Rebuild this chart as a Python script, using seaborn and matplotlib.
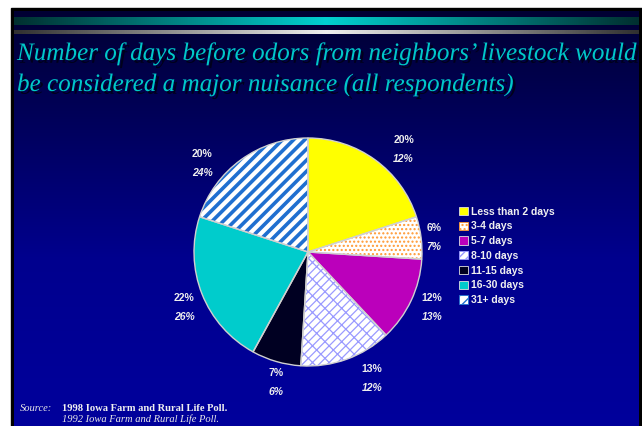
import numpy as np
import matplotlib
matplotlib.use('Agg')
import matplotlib.pyplot as plt
import matplotlib.patheffects as pe
import seaborn as sns
from matplotlib.patches import Patch, Rectangle

# data
categories = ['Less than 2 days', '3-4 days', '5-7 days', '8-10 days',
              '11-15 days', '16-30 days', '31+ days']
pct_1998 = [20, 6, 12, 13, 7, 22, 20]
pct_1992 = [12, 7, 13, 12, 6, 26, 24]

title_lines = ['Number of days before odors from neighbors\u2019 livestock would',
               'be considered a major nuisance (all respondents)']

# slice styling
slice_colors = sns.color_palette(['#ffff00', '#ffffff', '#bb00bb', '#ffffff',
                                  '#000022', '#00cccc', '#ffffff'])
hatches = [None, '....', None, '////\\\\', None, None, '///']
hatch_colors = [None, '#ff9933', None, '#9a9aff', None, None, '#1f6fd0']
hatch_widths = [1.0, 1.0, 1.0, 0.9, 1.0, 1.0, 2.6]

# label nudges (clockwise degrees) and radii, relative to the slice middle
label_dang = [7, 0.5, -1, -7, -2.5, -2.5, -14]
label_r = [1.23, 1.11, 1.19, 1.24, 1.18, 1.19, 1.21]

sns.set_theme(style='white')
plt.rcParams['font.family'] = ['Liberation Sans', 'DejaVu Sans']

W, H = 642, 426
fig = plt.figure(figsize=(6.42, 4.26), dpi=100, facecolor='white')

# background axes in pixel coords
bg = fig.add_axes([0, 0, 1, 1])
bg.set_xlim(0, W)
bg.set_ylim(H, 0)
bg.axis('off')
bg.add_patch(Rectangle((11, 8), W - 11, H - 8, color='black', zorder=0))

yy = np.arange(11, H + 1)
blue = np.interp(yy, [11, 130, 260, 426], [0x33, 0x5e, 0x8e, 0x9c]) / 255
grad = np.zeros((len(yy), 1, 3))
grad[:, 0, 2] = blue
bg.imshow(grad, extent=(14, 639, H, 11), aspect='auto', zorder=1)

# the two bars on top
t = np.linspace(0, 1, 300)
tri = 1 - np.abs(2 * t - 1)
cyan_bar = np.zeros((1, len(t), 3))
cyan_bar[0, :, 1] = (0x30 + (0xd0 - 0x30) * tri) / 255
cyan_bar[0, :, 2] = (0x30 + (0xd0 - 0x30) * tri) / 255
bg.imshow(cyan_bar, extent=(14, 639, 25, 17), aspect='auto', zorder=2)
gray_bar = np.zeros((1, len(t), 3))
for k in range(3):
    gray_bar[0, :, k] = (0x30 + (0xf0 - 0x30) * tri) / 255
bg.imshow(gray_bar, extent=(14, 639, 34, 30), aspect='auto', zorder=2)
bg.set_xlim(0, W)
bg.set_ylim(H, 0)

# title with shadow
shadow = [pe.SimplePatchShadow(offset=(2, -2), shadow_rgbFace='#00001c', alpha=1), pe.Normal()]
for i, line in enumerate(title_lines):
    bg.text(17, 60 + 31 * i, line, fontsize=18.1, style='italic', family='Liberation Serif',
            color='#00c8c8', va='baseline', zorder=4, path_effects=shadow)

# source note
bg.text(20, 411, 'Source:', fontsize=7.6, style='italic', family='Liberation Serif',
        color='#e8e8e8', va='baseline')
bg.text(62, 411, '1998 Iowa Farm and Rural Life Poll.', fontsize=7.6, weight='bold',
        family='Liberation Serif', color='#f0f0f0', va='baseline')
bg.text(62, 422, '1992 Iowa Farm and Rural Life Poll.', fontsize=7.6, style='italic',
        family='Liberation Serif', color='#e8e8e8', va='baseline')

# pie
cx, cy, R = 308, 252, 114
pax = fig.add_axes([(cx - R) / W, (H - cy - R) / H, 2 * R / W, 2 * R / H])
wedges, _ = pax.pie(pct_1998, colors=slice_colors, startangle=90, counterclock=False,
                    radius=1, wedgeprops=dict(linewidth=0))
for w, h, hc, hw in zip(wedges, hatches, hatch_colors, hatch_widths):
    if h:
        w.set_edgecolor(hc)
        w.set_hatch(h)
        if hasattr(w, 'set_hatch_linewidth'):
            w.set_hatch_linewidth(hw)
pax.pie(pct_1998, colors=['none'] * len(pct_1998), startangle=90, counterclock=False,
        radius=1, wedgeprops=dict(linewidth=1, edgecolor='#d0d0d0', fill=False))
pax.set_xlim(-1, 1)
pax.set_ylim(-1, 1)
pax.set_aspect('auto')
pax.axis('off')

dy = 9.5 / R
for w, a, b, dang, rr in zip(wedges, pct_1998, pct_1992, label_dang, label_r):
    th = np.deg2rad((w.theta1 + w.theta2) / 2 - dang)
    x, y = rr * np.cos(th), rr * np.sin(th)
    pax.text(x, y + dy, f'{a}%', ha='center', va='center', fontsize=7.5,
             weight='bold', color='#eeeeee', clip_on=False)
    pax.text(x, y - dy, f'{b}%', ha='center', va='center', fontsize=7.5,
             weight='bold', style='italic', color='#eeeeee', clip_on=False)

# legend
handles = []
for c, h, hc in zip(slice_colors, hatches, hatch_colors):
    handles.append(Patch(facecolor=c, edgecolor=hc if h else '#e0e0e0', hatch=h, linewidth=0.6))
fig.legend(handles, categories, loc='upper left', bbox_to_anchor=(459 / W, 1 - 206.5 / H),
           frameon=False, prop={'weight': 'bold', 'size': 7.5}, labelcolor='#f0f0f0',
           handlelength=0.85, handleheight=0.85, handletextpad=0.3, labelspacing=0.46,
           borderpad=0, borderaxespad=0)

fig.savefig('out.png', dpi=100, facecolor='white')
